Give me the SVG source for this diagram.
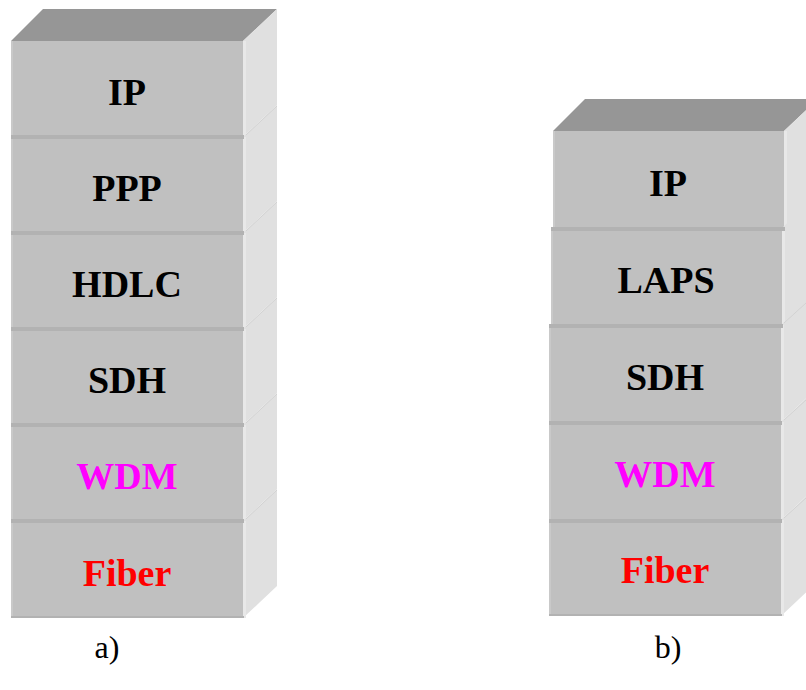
<svg xmlns="http://www.w3.org/2000/svg" width="806" height="690" viewBox="0 0 806 690">
  <style>
    .front { fill: #c0c0c0; }
    .edge { fill: #c9c9c9; }
    .sep { fill: #b2b2b2; }
    .side { fill: #e0e0e0; }
    .sidehl { fill: #e8e8e8; }
    .diag { stroke: #d2d2d2; stroke-width: 1; fill: none; }
    .top { fill: #969696; }
    .lbl { font-family: "Liberation Serif", "Times New Roman", serif; font-weight: bold; font-size: 38px; text-anchor: middle; }
    .cap { font-family: "Liberation Serif", "Times New Roman", serif; font-size: 32px; text-anchor: middle; fill: #000; }
  </style>
  <rect width="806" height="690" fill="#ffffff"/>

  <!-- Stack a) -->
  <g id="stack-a">
    <polygon class="top" points="11,41 43,9 277,9 243,41"/>
    <g id="a-ip">
      <polygon class="side" points="243,41 277,9 277,105 243,137"/>
      <rect class="sidehl" x="243" y="41" width="3" height="96"/>
      <rect class="front" x="11" y="41" width="232" height="96"/>
      <rect class="edge" x="11" y="41" width="2" height="96"/>
      <text class="lbl" x="127" y="105" fill="#000">IP</text>
    </g>
    <g id="a-ppp">
      <polygon class="side" points="243,137 277,105 277,201 243,233"/>
      <rect class="sidehl" x="243" y="137" width="3" height="96"/>
      <line class="diag" x1="246" y1="135" x2="277" y2="106"/>
      <rect class="front" x="11" y="137" width="232" height="96"/>
      <rect class="edge" x="11" y="137" width="2" height="96"/>
      <rect class="sep" x="11" y="135" width="233" height="4"/>
      <text class="lbl" x="127" y="201" fill="#000">PPP</text>
    </g>
    <g id="a-hdlc">
      <polygon class="side" points="243,233 277,201 277,297 243,329"/>
      <rect class="sidehl" x="243" y="233" width="3" height="96"/>
      <line class="diag" x1="246" y1="231" x2="277" y2="202"/>
      <rect class="front" x="11" y="233" width="232" height="96"/>
      <rect class="edge" x="11" y="233" width="2" height="96"/>
      <rect class="sep" x="11" y="231" width="233" height="4"/>
      <text class="lbl" x="127" y="297" fill="#000">HDLC</text>
    </g>
    <g id="a-sdh">
      <polygon class="side" points="243,329 277,297 277,393 243,425"/>
      <rect class="sidehl" x="243" y="329" width="3" height="96"/>
      <line class="diag" x1="246" y1="327" x2="277" y2="298"/>
      <rect class="front" x="11" y="329" width="232" height="96"/>
      <rect class="edge" x="11" y="329" width="2" height="96"/>
      <rect class="sep" x="11" y="327" width="233" height="4"/>
      <text class="lbl" x="127" y="393" fill="#000">SDH</text>
    </g>
    <g id="a-wdm">
      <polygon class="side" points="243,425 277,393 277,489 243,521"/>
      <rect class="sidehl" x="243" y="425" width="3" height="96"/>
      <line class="diag" x1="246" y1="423" x2="277" y2="394"/>
      <rect class="front" x="11" y="425" width="232" height="96"/>
      <rect class="edge" x="11" y="425" width="2" height="96"/>
      <rect class="sep" x="11" y="423" width="233" height="4"/>
      <text class="lbl" x="127" y="489" fill="#ff00ff">WDM</text>
    </g>
    <g id="a-fiber">
      <polygon class="side" points="243,521 277,489 277,586 243,618"/>
      <rect class="sidehl" x="243" y="521" width="3" height="97"/>
      <line class="diag" x1="246" y1="519" x2="277" y2="490"/>
      <rect class="front" x="11" y="521" width="232" height="97"/>
      <rect class="edge" x="11" y="521" width="2" height="97"/>
      <rect class="sep" x="11" y="519" width="233" height="4"/>
      <rect class="sep" x="11" y="616" width="233" height="2"/>
      <text class="lbl" x="127" y="586" fill="#ff0000">Fiber</text>
    </g>
  </g>

  <!-- Stack b) -->
  <g id="stack-b">
    <polygon class="top" points="553,131 585,99 818,99 784,131"/>
    <g id="b-ip">
      <polygon class="side" points="784,131 818,99 818,196 784,228"/>
      <rect class="sidehl" x="784" y="131" width="3" height="97"/>
      <rect class="front" x="553" y="131" width="231" height="97"/>
      <rect class="edge" x="553" y="131" width="2" height="97"/>
      <text class="lbl" x="668" y="196" fill="#000">IP</text>
    </g>
    <g id="b-laps">
      <polygon class="side" points="782,228 816,196 816,293 782,325"/>
      <rect class="sidehl" x="782" y="228" width="3" height="97"/>
      <rect class="front" x="551" y="228" width="231" height="97"/>
      <rect class="edge" x="551" y="228" width="2" height="97"/>
      <rect class="sep" x="551" y="227" width="234" height="4"/>
      <text class="lbl" x="666" y="293" fill="#000">LAPS</text>
    </g>
    <g id="b-sdh">
      <polygon class="side" points="781,325 815,293 815,390 781,422"/>
      <rect class="sidehl" x="781" y="325" width="3" height="97"/>
      <line class="diag" x1="784" y1="323" x2="806" y2="303"/>
      <rect class="front" x="549" y="325" width="232" height="97"/>
      <rect class="edge" x="549" y="325" width="2" height="97"/>
      <rect class="sep" x="549" y="324" width="234" height="4"/>
      <text class="lbl" x="665" y="390" fill="#000">SDH</text>
    </g>
    <g id="b-wdm">
      <polygon class="side" points="781,422 815,390 815,488 781,520"/>
      <rect class="sidehl" x="781" y="422" width="3" height="98"/>
      <line class="diag" x1="784" y1="420" x2="806" y2="400"/>
      <rect class="front" x="549" y="422" width="232" height="98"/>
      <rect class="edge" x="549" y="422" width="2" height="98"/>
      <rect class="sep" x="549" y="421" width="233" height="4"/>
      <text class="lbl" x="665" y="487" fill="#ff00ff">WDM</text>
    </g>
    <g id="b-fiber">
      <polygon class="side" points="781,520 815,488 815,584 781,616"/>
      <rect class="sidehl" x="781" y="520" width="3" height="96"/>
      <line class="diag" x1="784" y1="518" x2="806" y2="498"/>
      <rect class="front" x="549" y="520" width="232" height="96"/>
      <rect class="edge" x="549" y="520" width="2" height="96"/>
      <rect class="sep" x="549" y="519" width="233" height="4"/>
      <rect class="sep" x="549" y="614" width="233" height="2"/>
      <text class="lbl" x="665" y="583" fill="#ff0000">Fiber</text>
    </g>
  </g>

  <!-- Captions -->
  <text class="cap" x="107" y="658">a)</text>
  <text class="cap" x="668" y="658">b)</text>
</svg>
